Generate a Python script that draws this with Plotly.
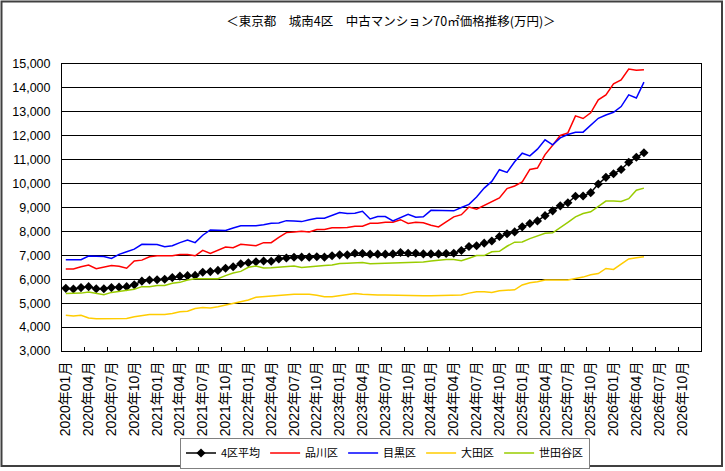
import plotly.graph_objects as go

# ---- data (monthly, 2020-01 .. 2026-05) ----
avg_4ku = [5620, 5590, 5650, 5690, 5600, 5600, 5650, 5670, 5690, 5770, 5920, 5970, 5980, 6000, 6070,
           6130, 6150, 6160, 6290, 6320, 6370, 6460, 6520, 6650, 6690, 6730, 6760, 6750, 6850, 6890, 6920,
           6924, 6924, 6940, 6924, 6980, 7020, 7020, 7090, 7077, 7050, 7050, 7050, 7060, 7120, 7090,
           7090, 7060, 7060, 7060, 7077, 7090, 7200, 7370, 7400, 7510, 7600, 7790, 7900, 7980, 8190,
           8330, 8440, 8660, 8860, 9070, 9200, 9470, 9480, 9620, 9980, 10260, 10410, 10590, 10890, 11100, 11290]
shinagawa = [6430, 6430, 6520, 6590, 6440, 6520, 6570, 6540, 6460, 6760, 6800, 6940, 6980, 6980, 6980,
             7030, 7030, 6980, 7210, 7080, 7220, 7350, 7320, 7460, 7430, 7400, 7530, 7530, 7750,
             7950, 7980, 8010, 7980, 8080, 8080, 8150, 8150, 8160, 8220, 8220, 8340, 8340, 8380, 8380,
             8490, 8330, 8380, 8360, 8260, 8190, 8400, 8610, 8700, 9020, 8930, 9090, 9260, 9400, 9790,
             9900, 10070, 10590, 10650, 11210, 11600, 12010, 12120, 12830, 12720, 12960, 13500, 13710,
             14170, 14330, 14790, 14740, 14760]
meguro = [6820, 6820, 6820, 6970, 6950, 6950, 6870, 7040, 7150, 7260, 7460, 7450, 7450, 7360, 7400,
          7530, 7640, 7530, 7840, 8060, 8060, 8040, 8140, 8240, 8240, 8240, 8280, 8340, 8350,
          8450, 8440, 8410, 8490, 8550, 8550, 8680, 8790, 8750, 8760, 8840, 8520, 8620, 8620, 8440,
          8580, 8720, 8590, 8610, 8880, 8880, 8880, 8860, 9000, 9130, 9440, 9810, 10090, 10580, 10470,
          10910, 11270, 11160, 11440, 11830, 11620, 11910, 12050, 12150, 12150, 12430, 12730, 12870,
          12980, 13220, 13710, 13580, 14240]
ota = [4490, 4460, 4490, 4380, 4350, 4360, 4350, 4350, 4360, 4430, 4480, 4530, 4530, 4530, 4570,
       4640, 4660, 4780, 4820, 4800, 4850, 4920, 4990, 5030, 5130, 5250, 5280, 5280, 5330,
       5340, 5370, 5370, 5370, 5330, 5270, 5270, 5310, 5330, 5400, 5370, 5340, 5340, 5340, 5330,
       5310, 5310, 5310, 5310, 5310, 5310, 5310, 5310, 5340, 5420, 5480, 5480, 5450, 5520, 5550,
       5560, 5760, 5850, 5900, 5970, 5970, 5970, 5970, 6030, 6090, 6190, 6240, 6450, 6410, 6630,
       6850, 6900, 6940]
setagaya = [5400, 5400, 5420, 5470, 5400, 5350, 5450, 5500, 5540, 5580, 5690, 5690, 5740, 5740, 5830,
            5870, 5970, 6020, 6020, 6010, 6020, 6150, 6260, 6330, 6500, 6550, 6470, 6480, 6510,
            6540, 6550, 6490, 6520, 6580, 6580, 6600, 6660, 6670, 6670, 6700, 6650, 6660, 6660, 6660,
            6670, 6700, 6700, 6720, 6760, 6800, 6830, 6830, 6770, 6880, 6990, 6990, 7150, 7170, 7380,
            7550, 7560, 7700, 7810, 7920, 7940, 8150, 8380, 8610, 8750, 8820, 9040, 9270, 9270, 9250,
            9370, 9720, 9810]

# axis categories: 2020-01 .. 2026-12 (84 months)
years = list(range(2020, 2027))
months_all = [f"{y}年{m:02d}月" for y in years for m in range(1, 13)]
label_step = 3
tick_idx = list(range(0, 82, label_step))
tick_text = [months_all[i] for i in tick_idx]

x_idx = list(range(len(avg_4ku)))

series = [
    ("4区平均", avg_4ku, "#000000"),
    ("品川区", shinagawa, "#FF0000"),
    ("目黒区", meguro, "#0000FF"),
    ("大田区", ota, "#FFCC00"),
    ("世田谷区", setagaya, "#99CC00"),
]

fig = go.Figure()
for name, vals, col in series:
    if name == "4区平均":
        fig.add_trace(go.Scatter(x=x_idx, y=vals, name=name, mode="lines+markers",
                                 line=dict(color=col, width=1.5),
                                 marker=dict(symbol="diamond", size=7, color=col)))
    else:
        fig.add_trace(go.Scatter(x=x_idx, y=vals, name=name, mode="lines",
                                 line=dict(color=col, width=1.5)))

# dummy trace on second x axis for boundary ticks
fig.add_trace(go.Scatter(x=[-0.5], y=[None], xaxis="x2", showlegend=False, hoverinfo="skip"))

L, R, T, B = 62, 24, 64, 120
W, H = 725, 471
pw, ph = W - L - R, H - T - B

def px2paper_x(px):
    return (px - L) / pw

def px2paper_y(py):
    return (H - B - py) / ph

fig.update_layout(
    width=W, height=H,
    margin=dict(l=L, r=R, t=T, b=B, autoexpand=False),
    paper_bgcolor="white", plot_bgcolor="white",
    title=dict(text="＜東京都　城南4区　中古マンション70㎡価格推移(万円)＞",
               x=391 / W, xanchor="center", y=1 - 22 / H, yanchor="middle",
               font=dict(family="Noto Sans CJK JP", size=12.5, color="black")),
    xaxis=dict(range=[-0.5, 83.5], tickmode="array", tickvals=tick_idx, ticktext=tick_text,
               tickangle=-90, ticks="outside", ticklen=4, tickcolor="rgba(0,0,0,0)",
               showgrid=False, zeroline=False, showline=True, linecolor="black", linewidth=1,
               mirror=True, automargin=False,
               tickfont=dict(family="Liberation Sans, Noto Sans CJK JP", size=14, color="black")),
    xaxis2=dict(range=[-0.5, 83.5], overlaying="x", anchor="y", side="bottom",
                tickmode="array", tickvals=[-0.5 + 3 * k for k in range(1, 28)],
                ticks="inside", ticklen=4, tickcolor="black", showticklabels=False,
                showgrid=False, zeroline=False, showline=False, automargin=False),
    yaxis=dict(range=[3000, 15000], tickmode="linear", tick0=3000, dtick=1000,
               tickformat=",d", ticks="outside", ticklen=8, tickcolor="rgba(0,0,0,0)",
               showgrid=True, gridcolor="black", gridwidth=1, zeroline=False,
               showline=True, linecolor="black", linewidth=1, mirror=True, automargin=False,
               tickfont=dict(family="Liberation Sans", size=12.5, color="black")),
    legend=dict(orientation="h", x=px2paper_x(385), xanchor="center",
                y=px2paper_y(437.5), yanchor="top",
                bordercolor="#808080", borderwidth=1, bgcolor="white",
                font=dict(family="Noto Sans CJK JP", size=11, color="black"),
                itemwidth=30, tracegroupgap=0),
    showlegend=True,
    shapes=[dict(type="rect", xref="paper", yref="paper",
                 x0=px2paper_x(1.5), x1=px2paper_x(722), y0=px2paper_y(466), y1=px2paper_y(1.5),
                 line=dict(color="#404040", width=2), fillcolor="rgba(0,0,0,0)", layer="below")],
)

fig.write_html("out.html")
